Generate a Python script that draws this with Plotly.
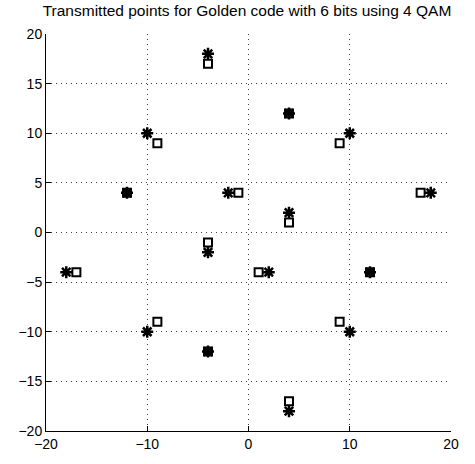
import plotly.graph_objects as go

# Transmitted constellation points (real vs imaginary parts)
sq_x = [-4, 4, 9, -9, -12, -1, 17, 4, -4, -17, 1, 12, -9, 9, -4, 4]
sq_y = [17, 12, 9, 9, 4, 4, 4, 1, -1, -4, -4, -4, -9, -9, -12, -17]

st_x = [-4, 4, 10, -10, -12, -2, 18, 4, -4, -18, 2, 12, -10, 10, -4, 4]
st_y = [18, 12, 10, 10, 4, 4, 4, 2, -2, -4, -4, -4, -10, -10, -12, -18]

ticks = [-20, -15, -10, -5, 0, 5, 10, 15, 20]
xticks = [-20, -10, 0, 10, 20]

fig = go.Figure()
fig.add_trace(go.Scatter(
    x=sq_x, y=sq_y, mode="markers",
    marker=dict(symbol="square-open", size=8, color="black",
                line=dict(width=2, color="black")),
))
fig.add_trace(go.Scatter(
    x=st_x, y=st_y, mode="markers",
    marker=dict(symbol="asterisk-open", size=10, color="black",
                line=dict(width=2.5, color="black")),
))

axis_common = dict(
    range=[-20, 20], showgrid=True, gridcolor="rgba(0,0,0,0.75)",
    griddash="1px,4px", gridwidth=1, zeroline=False,
    showline=True, linecolor="black", linewidth=1, mirror=False,
    ticks="inside", ticklen=5, tickcolor="black",
    tickfont=dict(family="Liberation Sans, Arial, sans-serif", size=14, color="black"),
)

fig.update_layout(
    width=475, height=464,
    margin=dict(l=46, r=24, t=34, b=27),
    paper_bgcolor="white", plot_bgcolor="white",
    showlegend=False,
    title=dict(
        text="Transmitted points for Golden code with 6 bits using 4 QAM",
        x=0.52, xanchor="center", y=0.977, yanchor="middle",
        font=dict(family="Liberation Sans, Arial, sans-serif", size=15.5, color="black"),
    ),
    xaxis=dict(tickvals=xticks, **axis_common),
    yaxis=dict(tickvals=ticks, **axis_common),
)

fig.write_html("out.html")
